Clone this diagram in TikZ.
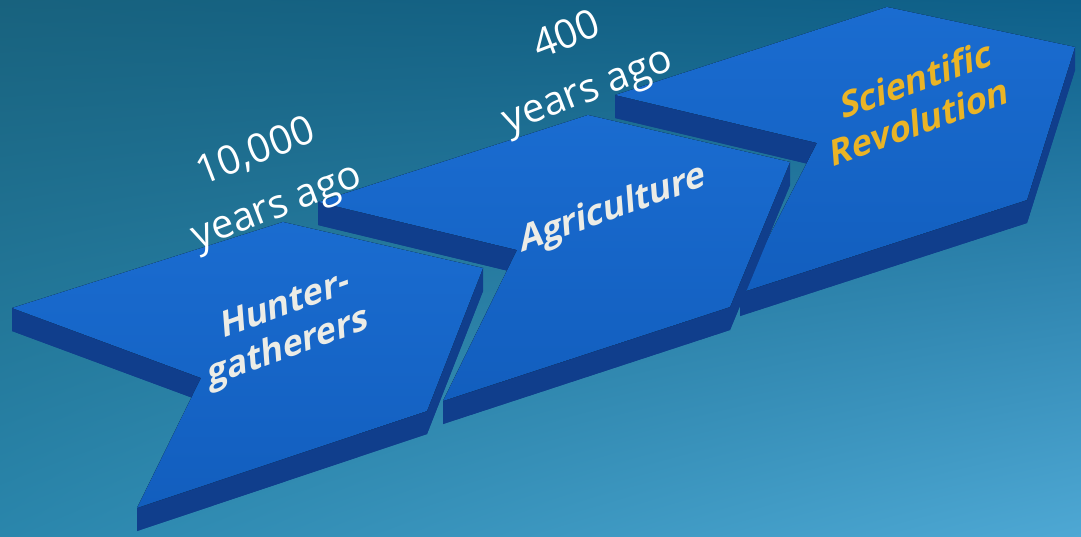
\documentclass[tikz,border=0pt]{standalone}
\usepackage{fontspec}
\setmainfont{Open Sans}
\usetikzlibrary{calc,shadings}

\definecolor{bgul}{RGB}{24,98,126}
\definecolor{bgur}{RGB}{14,96,138}
\definecolor{bgll}{RGB}{42,134,172}
\definecolor{bglr}{RGB}{78,168,212}
\definecolor{chevlight}{RGB}{26,108,208}
\definecolor{chevface}{RGB}{18,94,190}
\definecolor{chevdark}{RGB}{16,62,140}
\definecolor{labelwhite}{RGB}{236,236,230}
\definecolor{labelgold}{RGB}{234,180,38}

\tikzset{
  chevtop/.style={top color=chevlight, bottom color=chevface},
  chevside/.style={fill=chevdark},
  yearlabel/.style={text=white, align=center, rotate=21,
    font=\fontsize{40}{58}\selectfont},
  steplabel/.style={align=center, rotate=20, xslant=0.28,
    font=\bfseries\fontsize{35}{41}\selectfont},
}

\begin{document}
\begin{tikzpicture}[x=1pt,y=-1pt]
\useasboundingbox (0,0) rectangle (1081,537);
\shade[upper left=bgul, upper right=bgur, lower left=bgll, lower right=bglr]
  (0,0) rectangle (1081,537);

% chevron corners: tail top, far top, tip, front, tail bottom, notch
\coordinate (hunt1) at (12,308);
\coordinate (hunt2) at (283,222);
\coordinate (hunt3) at (483,268);
\coordinate (hunt4) at (427,411);
\coordinate (hunt5) at (137,508);
\coordinate (hunt6) at (201,378);

\coordinate (agri1) at (318,202);
\coordinate (agri2) at (588,115);
\coordinate (agri3) at (790,162);
\coordinate (agri4) at (730,307);
\coordinate (agri5) at (443,401);
\coordinate (agri6) at (517,250);

\coordinate (sci1) at (615,95);
\coordinate (sci2) at (887,7);
\coordinate (sci3) at (1075,47);
\coordinate (sci4) at (1027,200);
\coordinate (sci5) at (740,293);
\coordinate (sci6) at (817,143);

\foreach \c in {sci,agri,hunt}{
  \fill[chevside] ($(\c1)+(0,23)$) -- ($(\c2)+(0,23)$) -- ($(\c3)+(0,23)$)
    -- ($(\c4)+(0,23)$) -- ($(\c5)+(0,23)$) -- ($(\c6)+(0,23)$) -- cycle;
  \fill[chevside] (\c3) -- (\c4) -- (\c5) -- ($(\c5)+(0,23)$)
    -- ($(\c4)+(0,23)$) -- ($(\c3)+(0,23)$) -- cycle;
  \fill[chevside] (\c1) -- (\c6) -- ($(\c6)+(0,23)$) -- ($(\c1)+(0,23)$) -- cycle;
  \fill[chevtop] (\c1) -- (\c2) -- (\c3) -- (\c4) -- (\c5) -- (\c6) -- cycle;
}

\node[steplabel, text=labelwhite] (huntlbl) at (287,328) {Hunter-\\gatherers};
\node[steplabel, text=labelwhite] (agrilbl) at (613,210) {Agriculture};
\node[steplabel, text=labelgold] (scilbl) at (918,100) {Scientific\\Revolution};

\node[yearlabel] (ago1) at (267,181) {10,000\\years ago};
\node[yearlabel] (ago2) at (578,65) {400\\years ago};
\end{tikzpicture}
\end{document}
